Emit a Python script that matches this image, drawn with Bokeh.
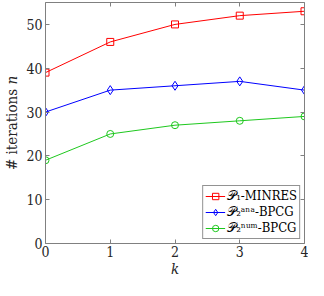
from bokeh.plotting import figure
from bokeh.models import LinearAxis, Range1d, FixedTicker, Legend, LegendItem
from bokeh.embed import file_html
from bokeh.resources import INLINE

k = [0, 1, 2, 3, 4]
minres = [39, 46, 50, 52, 53]
bpcg_ana = [30, 35, 36, 37, 35]
bpcg_num = [19, 25, 27, 28, 29]
xticks = [0, 1, 2, 3, 4]
yticks = [0, 10, 20, 30, 40, 50]
labels = ["𝒫₁-MINRES", "𝒫₂ᵃⁿᵃ-BPCG", "𝒫₂ⁿᵘᵐ-BPCG"]

FONT = "DejaVu Serif Condensed"
TXT = "#262626"
AX = "#808080"

p = figure(width=308, height=280, output_backend="svg", toolbar_location=None,
           x_range=Range1d(0, 4), y_range=Range1d(0, 55),
           min_border_left=30, min_border_right=4, min_border_top=2, min_border_bottom=30)
p.grid.visible = False
p.outline_line_color = None

for ax in p.xaxis + p.yaxis:
    ax.axis_line_color = AX
    ax.major_tick_line_color = AX
    ax.major_tick_in = 4
    ax.major_tick_out = 0
    ax.minor_tick_line_color = None
    ax.major_label_text_font = FONT
    ax.major_label_text_font_size = "14px"
    ax.major_label_text_color = TXT
    ax.axis_label_text_font = FONT
    ax.axis_label_text_font_size = "15px"
    ax.axis_label_text_font_style = "normal"
    ax.axis_label_text_color = TXT
p.xaxis.ticker = FixedTicker(ticks=xticks)
p.yaxis.ticker = FixedTicker(ticks=yticks)
p.xaxis.axis_label = "k"
p.xaxis.axis_label_text_font_style = "italic"
p.yaxis.axis_label = "# iterations 𝑛"
p.xaxis.axis_label_standoff = 0
p.yaxis.axis_label_standoff = 2
p.xaxis.major_label_standoff = 2
p.yaxis.major_label_standoff = 3

for loc, tk in (("right", yticks), ("above", xticks)):
    a = LinearAxis(ticker=FixedTicker(ticks=tk),
                   major_label_overrides={t: "" for t in tk},
                   axis_line_color=AX, major_tick_line_color=AX, major_tick_in=4,
                   major_tick_out=0, minor_tick_line_color=None, major_label_standoff=0)
    p.add_layout(a, loc)

r1 = p.line(k, minres, color="#ff0000", line_width=1)
m1 = p.scatter(k, minres, marker="square", size=7, line_color="#ff0000", fill_color=None)
r2 = p.line(k, bpcg_ana, color="#0000ff", line_width=1)
m2 = p.scatter(k, bpcg_ana, marker="diamond", size=9, line_color="#0000ff", fill_color=None)
r3 = p.line(k, bpcg_num, color="#1ec81e", line_width=1)
m3 = p.scatter(k, bpcg_num, marker="circle", size=7, line_color="#1ec81e", fill_color=None)

legend = Legend(items=[LegendItem(label=labels[0], renderers=[r1, m1]),
                       LegendItem(label=labels[1], renderers=[r2, m2]),
                       LegendItem(label=labels[2], renderers=[r3, m3])],
                location="bottom_right", label_text_font=FONT, label_text_font_size="13px",
                label_text_color="#000000", border_line_color=TXT, background_fill_alpha=1,
                padding=2, spacing=0, margin=4, glyph_width=20, label_standoff=2,
                label_height=16, glyph_height=16)
p.add_layout(legend)

open("out.html", "w").write(file_html(p, INLINE))
